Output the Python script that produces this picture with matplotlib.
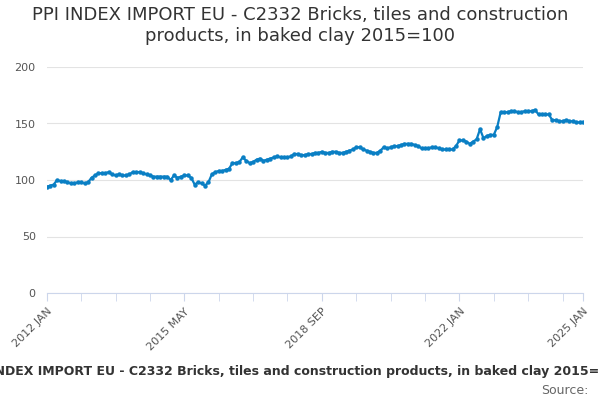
import matplotlib
matplotlib.use("Agg")
import matplotlib.pyplot as plt
import numpy as np

values = [94,95,96,100,99,99,98,97,97,98,98,97,
          98,102,104,106,106,106,107,105,104,105,104,104,
          105,107,107,107,106,105,104,103,103,103,103,103,
          100,104,102,103,104,104,102,96,98,97,95,98,
          105,107,108,108,109,110,115,115,116,120,117,115,
          116,118,119,117,118,119,120,121,120,120,120,121,
          123,123,122,122,123,123,124,124,125,124,124,125,
          125,124,124,125,126,127,129,129,127,126,125,124,
          124,126,129,128,129,130,130,131,132,132,132,131,
          130,128,128,128,129,129,128,127,127,127,127,130,
          135,135,134,132,134,136,145,137,139,140,140,147,
          160,160,160,161,161,160,160,161,161,161,162,158,
          158,158,158,153,153,152,152,153,152,152,151,151,151]
tick_positions = [0, 40, 80, 120, 156]
tick_labels = ["2012 JAN", "2015 MAY", "2018 SEP", "2022 JAN", "2025 JAN"]
title = "PPI INDEX IMPORT EU - C2332 Bricks, tiles and construction\nproducts, in baked clay 2015=100"
caption = "PPI INDEX IMPORT EU - C2332 Bricks, tiles and construction products, in baked clay 2015=100"

fig = plt.figure(figsize=(6, 4), dpi=100)
ax = fig.add_axes([0.078, 0.2675, 0.894, 0.565])
x = np.arange(len(values))
ax.plot(x, values, color="#0a7fc4", lw=1.6, marker="o", ms=2.2, zorder=3)
ax.set_xlim(0, 156)
ax.set_ylim(0, 200)
ax.set_yticks([0, 50, 100, 150, 200])
ax.tick_params(axis="y", length=0, labelsize=8, colors="#555555", pad=8)
ax.grid(axis="y", color="#e3e3e3", lw=0.8)
ax.set_axisbelow(True)
for s in ["top", "right", "left"]:
    ax.spines[s].set_visible(False)
ax.spines["bottom"].set_color("#ccd6eb")
ax.set_xticks(tick_positions)
ax.set_xticklabels(tick_labels, rotation=45, ha="right", rotation_mode="anchor", fontsize=8, color="#555555")
ax.set_xticks([10, 20, 30, 50, 60, 70, 90, 100, 110, 130, 140, 150], minor=True)
ax.tick_params(axis="x", which="both", length=6, color="#ccd6eb")
fig.text(0.5, 0.985, title, ha="center", va="top", fontsize=13, color="#333333")
fig.text(0.49, 0.07, caption, ha="center", va="center", fontsize=9, color="#333333", fontweight="bold")
fig.text(0.98, 0.025, "Source:", ha="right", va="center", fontsize=9, color="#666666")
fig.savefig("out.png", dpi=100)
